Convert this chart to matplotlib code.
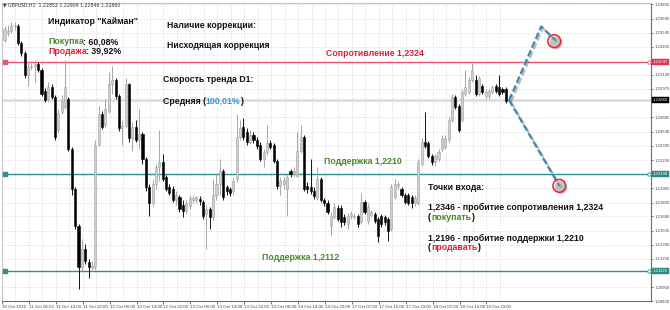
import matplotlib
matplotlib.use("Agg")
import matplotlib.pyplot as plt
import matplotlib.patheffects as pe
import matplotlib.transforms as mtransforms
from matplotlib.ft2font import FT2Font
from matplotlib.font_manager import findfont, FontProperties
import numpy as np

# ---------------- data (GBPUSD H1) ----------------
opens = [1.2347, 1.2354, 1.2356, 1.2361, 1.2361, 1.2344, 1.2334, 1.2312, 1.2320, 1.2321,
         1.2323, 1.2317, 1.2295, 1.2287, 1.2299, 1.2289, 1.2256, 1.2274, 1.2279, 1.2287,
         1.2236, 1.2196, 1.2158, 1.2117, 1.2135, 1.2122, 1.2116, 1.2117, 1.2241, 1.2272,
         1.2261, 1.2275, 1.2302, 1.2307, 1.2290, 1.2258, 1.2260, 1.2302, 1.2248, 1.2259,
         1.2246, 1.2252, 1.2226, 1.2198, 1.2182, 1.2201, 1.2218, 1.2223, 1.2208, 1.2198,
         1.2196, 1.2185, 1.2188, 1.2180, 1.2173, 1.2179, 1.2185, 1.2185, 1.2186, 1.2183,
         1.2170, 1.2175, 1.2167, 1.2190, 1.2201, 1.2214, 1.2198, 1.2196, 1.2194, 1.2206,
         1.2249, 1.2259, 1.2254, 1.2244, 1.2251, 1.2246, 1.2241, 1.2226, 1.2233, 1.2243,
         1.2241, 1.2224, 1.2199, 1.2201, 1.2196, 1.2214, 1.2211, 1.2209, 1.2234, 1.2249,
         1.2199, 1.2198, 1.2194, 1.2188, 1.2206, 1.2185, 1.2182, 1.2158, 1.2167, 1.2177,
         1.2177, 1.2167, 1.2160, 1.2168, 1.2167, 1.2168, 1.2162, 1.2183, 1.2163, 1.2169,
         1.2170, 1.2165, 1.2168, 1.2167, 1.2165, 1.2155, 1.2188, 1.2199, 1.2196, 1.2190,
         1.2190, 1.2188, 1.2182, 1.2182, 1.2221, 1.2244, 1.2243, 1.2229, 1.2223, 1.2226,
         1.2236, 1.2238, 1.2246, 1.2266, 1.2289, 1.2280, 1.2266, 1.2292, 1.2294, 1.2307,
         1.2307, 1.2292, 1.2300, 1.2290, 1.2290, 1.2294, 1.2300, 1.2299, 1.2297, 1.2297,
         1.22852]
highs = [1.2361, 1.2362, 1.2366, 1.2366, 1.2363, 1.2346, 1.2336, 1.2324, 1.2324, 1.2327,
         1.2325, 1.2319, 1.2298, 1.2305, 1.2302, 1.2291, 1.2277, 1.2291, 1.2327, 1.2289,
         1.2238, 1.2198, 1.2160, 1.2145, 1.2140, 1.2125, 1.2123, 1.2246, 1.2280, 1.2275,
         1.2287, 1.2315, 1.2321, 1.2309, 1.2292, 1.2266, 1.2309, 1.2304, 1.2264, 1.2266,
         1.2277, 1.2254, 1.2228, 1.2201, 1.2206, 1.2221, 1.2256, 1.2231, 1.2210, 1.2201,
         1.2199, 1.2194, 1.2190, 1.2185, 1.2185, 1.2190, 1.2189, 1.2189, 1.2189, 1.2185,
         1.2180, 1.2178, 1.2206, 1.2211, 1.2226, 1.2216, 1.2200, 1.2198, 1.2208, 1.2272,
         1.2266, 1.2268, 1.2258, 1.2256, 1.2254, 1.2249, 1.2244, 1.2236, 1.2261, 1.2246,
         1.2243, 1.2226, 1.2208, 1.2208, 1.2211, 1.2216, 1.2218, 1.2254, 1.2261, 1.2251,
         1.2203, 1.2226, 1.2198, 1.2218, 1.2208, 1.2187, 1.2185, 1.2172, 1.2182, 1.2180,
         1.2180, 1.2170, 1.2171, 1.2173, 1.2171, 1.2170, 1.2192, 1.2185, 1.2182, 1.2174,
         1.2172, 1.2167, 1.2170, 1.2169, 1.2167, 1.2201, 1.2206, 1.2204, 1.2198, 1.2192,
         1.2192, 1.2190, 1.2190, 1.2226, 1.2248, 1.2274, 1.2245, 1.2231, 1.2231, 1.2236,
         1.2251, 1.2251, 1.2269, 1.2292, 1.2291, 1.2282, 1.2297, 1.2317, 1.2310, 1.2324,
         1.2312, 1.2311, 1.2302, 1.2297, 1.2297, 1.2301, 1.2302, 1.2312, 1.2299, 1.2299,
         1.22909]
lows = [1.2345, 1.2351, 1.2354, 1.2357, 1.2342, 1.2331, 1.2309, 1.2300, 1.2317, 1.2305,
        1.2315, 1.2290, 1.2284, 1.2284, 1.2287, 1.2246, 1.2253, 1.2272, 1.2277, 1.2234,
        1.2190, 1.2155, 1.2094, 1.2112, 1.2120, 1.2105, 1.2113, 1.2113, 1.2239, 1.2257,
        1.2259, 1.2273, 1.2292, 1.2287, 1.2255, 1.2241, 1.2258, 1.2244, 1.2234, 1.2244,
        1.2236, 1.2221, 1.2194, 1.2168, 1.2179, 1.2196, 1.2204, 1.2204, 1.2194, 1.2190,
        1.2183, 1.2180, 1.2172, 1.2167, 1.2170, 1.2175, 1.2182, 1.2182, 1.2180, 1.2165,
        1.2135, 1.2155, 1.2163, 1.2185, 1.2190, 1.2185, 1.2190, 1.2189, 1.2190, 1.2203,
        1.2246, 1.2246, 1.2241, 1.2242, 1.2243, 1.2236, 1.2224, 1.2218, 1.2230, 1.2236,
        1.2222, 1.2196, 1.2190, 1.2196, 1.2168, 1.2208, 1.2208, 1.2208, 1.2232, 1.2194,
        1.2192, 1.2191, 1.2186, 1.2185, 1.2183, 1.2179, 1.2170, 1.2148, 1.2165, 1.2163,
        1.2157, 1.2159, 1.2155, 1.2165, 1.2165, 1.2157, 1.2160, 1.2170, 1.2160, 1.2167,
        1.2161, 1.2142, 1.2157, 1.2159, 1.2143, 1.2153, 1.2186, 1.2196, 1.2188, 1.2181,
        1.2180, 1.2177, 1.2179, 1.2180, 1.2219, 1.2237, 1.2227, 1.2220, 1.2219, 1.2224,
        1.2233, 1.2236, 1.2244, 1.2264, 1.2277, 1.2254, 1.2264, 1.2290, 1.2292, 1.2305,
        1.2290, 1.2290, 1.2292, 1.2287, 1.2287, 1.2292, 1.2293, 1.2290, 1.2292, 1.2283,
        1.22846]
closes = [1.2358, 1.2356, 1.2361, 1.2362, 1.2344, 1.2334, 1.2312, 1.2320, 1.2321, 1.2323,
          1.2317, 1.2292, 1.2286, 1.2299, 1.2289, 1.2249, 1.2273, 1.2285, 1.2299, 1.2236,
          1.2196, 1.2158, 1.2117, 1.2135, 1.2123, 1.2117, 1.2118, 1.2241, 1.2272, 1.2259,
          1.2277, 1.2302, 1.2307, 1.2290, 1.2258, 1.2260, 1.2302, 1.2248, 1.2259, 1.2246,
          1.2252, 1.2226, 1.2198, 1.2182, 1.2201, 1.2218, 1.2223, 1.2206, 1.2196, 1.2192,
          1.2185, 1.2190, 1.2175, 1.2173, 1.2182, 1.2187, 1.2187, 1.2188, 1.2184, 1.2168,
          1.2175, 1.2167, 1.2190, 1.2201, 1.2214, 1.2188, 1.2194, 1.2192, 1.2204, 1.2249,
          1.2258, 1.2249, 1.2244, 1.2251, 1.2246, 1.2239, 1.2226, 1.2233, 1.2243, 1.2238,
          1.2224, 1.2199, 1.2204, 1.2205, 1.2208, 1.2211, 1.2214, 1.2234, 1.2249, 1.2196,
          1.2196, 1.2194, 1.2189, 1.2206, 1.2185, 1.2182, 1.2172, 1.2168, 1.2178, 1.2165,
          1.2162, 1.2162, 1.2168, 1.2170, 1.2168, 1.2160, 1.2183, 1.2172, 1.2178, 1.2172,
          1.2163, 1.2148, 1.2160, 1.2162, 1.2153, 1.2198, 1.2201, 1.2201, 1.2190, 1.2183,
          1.2182, 1.2182, 1.2187, 1.2223, 1.2244, 1.2239, 1.2229, 1.2223, 1.2229, 1.2233,
          1.2248, 1.2248, 1.2266, 1.2289, 1.2279, 1.2256, 1.2294, 1.2299, 1.2307, 1.2317,
          1.2292, 1.2309, 1.2294, 1.2294, 1.2295, 1.2299, 1.2295, 1.2292, 1.2294, 1.2285,
          1.22860]

time_labels = ["10 Oct 2016", "11 Oct 06:00", "11 Oct 14:00", "11 Oct 22:00", "12 Oct 06:00",
               "12 Oct 14:00", "12 Oct 22:00", "13 Oct 06:00", "13 Oct 14:00", "13 Oct 22:00",
               "14 Oct 06:00", "14 Oct 14:00", "14 Oct 22:00", "17 Oct 07:00", "17 Oct 15:00",
               "17 Oct 23:00", "18 Oct 07:00", "18 Oct 15:00", "18 Oct 23:00"]
price_ticks = [1.23835, 1.23690, 1.23545, 1.23405, 1.23120, 1.22975, 1.22685, 1.22540,
               1.22395, 1.22250, 1.21965, 1.21820, 1.21680, 1.21535, 1.21390, 1.21250,
               1.20960, 1.20820]

resistance = 1.23247
support_1 = 1.22108
support_2 = 1.21126
last_price = 1.22860

proj_up_x = [150, 159.5, 163.7]
proj_up_y = [1.2286, 1.2361, 1.2347]
proj_dn_x = [150, 164.9]
proj_dn_y = [1.2286, 1.2199]
target_x = [163.4, 164.9]
target_y = [1.2346, 1.2199]

# ---------------- figure ----------------
W, H = 670, 310
DPI = 100
fig = plt.figure(figsize=(W / DPI, H / DPI), dpi=DPI, facecolor="white")
ax = fig.add_axes([2 / W, 9 / H, 649 / W, 298 / H])
ax.set_xlim(-0.15, 192.15)
ax.set_ylim(1.2082, 1.23848)

O = np.array(opens); Hh = np.array(highs); L = np.array(lows); C = np.array(closes)
x = np.arange(len(C))
bull = C >= O
bot = np.minimum(O, C)
hgt = np.maximum(np.abs(C - O), 0.00004)

# reference lines
ax.axhline(last_price, color="#dcdcdc", lw=1.8, zorder=1)
ax.axhline(resistance, color="#ee5173", lw=1.0, zorder=2)
ax.axhline(support_1, color="#2f8f8c", lw=1.0, zorder=2)
ax.axhline(support_2, color="#2f8f8c", lw=1.0, zorder=2)
for lvl, col in [(resistance, "#ee5173"), (support_1, "#2f8f8c"), (support_2, "#2f8f8c")]:
    ax.plot([0.15], [lvl], marker="s", ms=2.2, color=col, zorder=3, clip_on=False)
    ax.plot([191.6], [lvl], marker="o", ms=2.5, mfc="white", mec=col, mew=0.6, zorder=3, clip_on=False)

# candles
ax.vlines(x[bull], L[bull], Hh[bull], color="#a6a6a6", lw=0.7, zorder=4)
ax.vlines(x[~bull], L[~bull], Hh[~bull], color="#111111", lw=0.7, zorder=4)
ax.bar(x[bull], hgt[bull], bottom=bot[bull], width=0.62, color="#cfcfcf",
       edgecolor="#a0a0a0", lw=0.4, zorder=5)
ax.bar(x[~bull], hgt[~bull], bottom=bot[~bull], width=0.62, color="#000000",
       edgecolor="#000000", lw=0.4, zorder=5)

# projection lines
shadow = [pe.SimpleLineShadow(offset=(1.2, -1.2), shadow_color="#808080", alpha=0.55), pe.Normal()]
for px_, py_ in [(proj_up_x, proj_up_y), (proj_dn_x, proj_dn_y)]:
    ax.plot(px_, py_, color="#3f8aaa", lw=1.6, dashes=(3, 1.3), zorder=7,
            path_effects=shadow, clip_on=False)
ax.scatter(target_x, target_y, s=85, facecolors="none", edgecolors="#e3262f", lw=1.1, zorder=8,
           path_effects=[pe.SimplePatchShadow(offset=(1.2, -1.2), shadow_rgbFace="#888888", alpha=0.5),
                         pe.Normal()])

# axes styling
ax.yaxis.tick_right()
ax.set_yticks(price_ticks)
ax.set_yticklabels([f"{v:.5f}" for v in price_ticks], family="Liberation Sans")
ax.tick_params(axis="y", labelsize=3.1, length=1.5, pad=1.0, colors="#444444", width=0.5)
major = [8 * k - 0.75 for k in range(len(time_labels))]
minor = [8 * k + 3.25 for k in range(len(time_labels))]
ax.set_xticks(major)
ax.set_xticks(minor, minor=True)
ax.set_xticklabels(time_labels, family="Liberation Sans", ha="left")
ax.tick_params(axis="x", labelsize=3.2, length=2, pad=1, colors="#444444", width=0.5)
ax.tick_params(axis="x", which="minor", length=0)
ax.grid(True, which="both", axis="x", color="#d4d4d4", lw=0.5, ls=(0, (2, 2)), zorder=0)
ax.grid(True, which="major", axis="y", color="#d4d4d4", lw=0.5, ls=(0, (2, 2)), zorder=0)
ax.set_axisbelow(True)
for side, sp in ax.spines.items():
    sp.set_color("#6e6e6e" if side in ("right", "bottom") else "#c8c8c8")
    sp.set_linewidth(0.8)

# right-side price boxes
tr = mtransforms.blended_transform_factory(ax.transAxes, ax.transData)
for lvl, col in [(resistance, "#e2334f"), (last_price, "#000000"),
                 (support_1, "#2a8a86"), (support_2, "#2a8a86")]:
    ax.text(1.003, lvl, f"{lvl:.5f}", transform=tr, ha="left", va="center", fontsize=3.1,
            color="white", zorder=10, clip_on=False, family="Liberation Sans",
            bbox=dict(boxstyle="square,pad=0.25", fc=col, ec=col, lw=0.3))

# header
fig.text(3 / W, 1 - 5 / H, "\u25bc GBPUSD,H1  1.22852 1.22909 1.22846 1.22860",
         fontsize=3.3, va="center", ha="left", color="#333333", family="DejaVu Sans")

# ---------------- annotations ----------------
FSIZE = 6.3
FONT = dict(family="Liberation Sans", fontweight="bold", fontsize=FSIZE, va="center", ha="left")
_ft = FT2Font(findfont(FontProperties(family="Liberation Sans", weight="bold")))
_ft.set_size(FSIZE, DPI)


def advance(s):
    return sum(_ft.load_char(ord(ch)).linearHoriAdvance / 65536.0 for ch in s)


def rich(px, py, parts):
    cur = px
    for s, col in parts:
        fig.text(cur / W, 1 - py / H, s, color=col, **FONT)
        cur += advance(s)


BLACK = "#111111"; GREEN = "#4a8a2c"; RED = "#e21f3a"; BLUE = "#3a9cc6"
rich(48, 21, [('Индикатор "Кайман"', BLACK)])
rich(48, 42, [("Покупка", GREEN), (": 60,08%", BLACK)])
rich(48, 51, [("Продажа", RED), (": 39,92%", BLACK)])
rich(167, 26, [("Наличие коррекции:", BLACK)])
rich(167, 45, [("Нисходящая коррекция", BLACK)])
rich(163, 80, [("Скорость тренда D1:", BLACK)])
rich(163, 101, [("Средняя (", BLACK), ("100,01%", BLUE), (")", BLACK)])
rich(326, 54, [("Сопротивление 1,2324", RED)])
rich(324, 162, [("Поддержка 1,2210", GREEN)])
rich(262, 257, [("Поддержка 1,2112", GREEN)])
rich(428, 187, [("Точки входа:", BLACK)])
rich(428, 207, [("1,2346 - пробитие сопротивления 1,2324", BLACK)])
rich(428, 218, [("(", BLACK), ("покупать", GREEN), (")", BLACK)])
rich(428, 238, [("1,2196 - пробитие поддержки 1,2210", BLACK)])
rich(428, 248, [("(", BLACK), ("продавать", RED), (")", BLACK)])

fig.savefig("out.png", dpi=DPI, facecolor="white")
